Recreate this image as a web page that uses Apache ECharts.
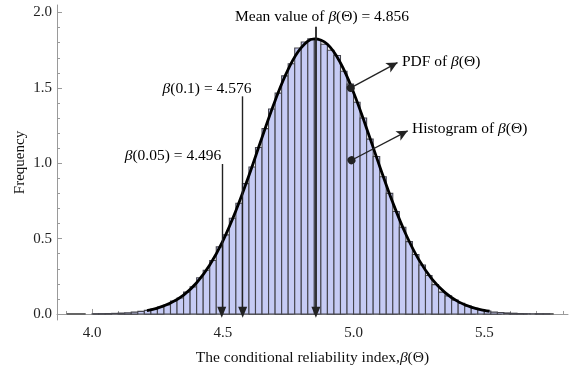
<!DOCTYPE html>
<html>
<head>
<meta charset="utf-8">
<script src="https://cdn.jsdelivr.net/npm/echarts@6/dist/echarts.min.js"></script>
<style>html,body{margin:0;padding:0;background:#fff}#c{width:570px;height:371px}</style>
</head>
<body>
<div id="c"></div>
<script>
// ---- data ----
const binEdges = [4.000,4.025,4.050,4.075,4.100,4.125,4.150,4.175,4.200,4.225,4.250,4.275,4.300,4.325,4.350,4.375,4.400,4.425,4.450,4.475,4.500,4.525,4.550,4.575,4.600,4.625,4.650,4.675,4.700,4.725,4.750,4.775,4.800,4.825,4.850,4.875,4.900,4.925,4.950,4.975,5.000,5.025,5.050,5.075,5.100,5.125,5.150,5.175,5.200,5.225,5.250,5.275,5.300,5.325,5.350,5.375,5.400,5.425,5.450,5.475,5.500,5.525,5.550,5.575,5.600,5.625,5.650,5.675,5.700,5.725,5.750];
const histFreq = [0.001,0.002,0.003,0.004,0.006,0.008,0.012,0.017,0.024,0.032,0.046,0.060,0.085,0.106,0.145,0.180,0.240,0.290,0.355,0.445,0.525,0.635,0.735,0.865,0.975,1.105,1.230,1.360,1.465,1.580,1.660,1.765,1.805,1.825,1.820,1.790,1.750,1.715,1.610,1.525,1.405,1.300,1.160,1.045,0.910,0.800,0.680,0.575,0.480,0.395,0.325,0.255,0.195,0.145,0.120,0.092,0.070,0.052,0.038,0.028,0.020,0.012,0.010,0.007,0.005,0.003,0.002,0.0015,0.001,0.0008];
const pdfX = [4.21,4.25,4.30,4.35,4.40,4.45,4.50,4.55,4.60,4.65,4.70,4.75,4.80,4.85,4.90,4.95,5.00,5.05,5.10,5.15,5.20,5.25,5.30,5.35,5.40,5.45,5.50,5.52];
const pdfY = [0.023,0.039,0.072,0.125,0.207,0.325,0.484,0.685,0.919,1.171,1.415,1.623,1.767,1.825,1.789,1.665,1.470,1.231,0.979,0.739,0.529,0.359,0.232,0.142,0.082,0.045,0.024,0.018];
const xTickLabels = [4.0, 4.5, 5.0, 5.5];
const xMinorTicks = [3.9,4.1,4.2,4.3,4.4,4.6,4.7,4.8,4.9,5.1,5.2,5.3,5.4,5.6,5.7,5.8];
const yTickLabels = [0.0, 0.5, 1.0, 1.5, 2.0];
const yMinorTicks = [0.1,0.2,0.3,0.4,0.6,0.7,0.8,0.9,1.1,1.2,1.3,1.4,1.6,1.7,1.8,1.9];
const quantiles = [
  {name: '0.05', value: 4.496, top: 0.995},
  {name: '0.1', value: 4.576, top: 1.444},
  {name: 'mean', value: 4.856, top: 1.905}
];
const zeroLine = [[3.903, 0], [5.79, 0]];
const pdfArrow = [[4.989, 1.50], [5.168, 1.668]];
const histArrow = [[4.992, 1.02], [5.207, 1.215]];

// ---- chart ----
const FONT = '"Liberation Serif", "DejaVu Serif", serif';
const AX = '#9a9a9a';
const chart = echarts.init(document.getElementById('c'));
const histData = histFreq.map((v, i) => [binEdges[i], binEdges[i + 1], v]);
const FS = 15.5;
const rich = {
  n: {fontFamily: FONT, fontSize: FS, color: '#111'},
  i: {fontFamily: FONT, fontSize: FS, fontStyle: 'italic', color: '#111'}
};

const xBase = {type: 'value', min: 3.866, max: 5.82, gridIndex: 0, position: 'bottom', splitLine: {show: false}};
const yBase = {type: 'value', min: -0.04, max: 2.05, gridIndex: 0, position: 'left', splitLine: {show: false}};

chart.setOption({
  animation: false,
  grid: {left: 57, right: 2, top: 5, bottom: 45},
  xAxis: [
    Object.assign({}, xBase, {
      axisLine: {lineStyle: {color: AX, width: 1}},
      axisTick: {inside: true, length: 5, lineStyle: {color: AX}, customValues: xTickLabels},
      axisLabel: {customValues: xTickLabels, formatter: v => v.toFixed(1), margin: 6, fontFamily: FONT, fontSize: 15, color: '#222'},
      name: '{n|The conditional reliability index,}{i|β}{n|(Θ)}',
      nameLocation: 'middle', nameGap: 30,
      nameTextStyle: {rich: rich}
    }),
    Object.assign({}, xBase, {
      axisLine: {show: false},
      axisTick: {inside: true, length: 3, lineStyle: {color: AX}, customValues: xMinorTicks},
      axisLabel: {show: false}
    })
  ],
  yAxis: [
    Object.assign({}, yBase, {
      axisLine: {show: true, lineStyle: {color: AX, width: 1}},
      axisTick: {show: true, inside: true, length: 5, lineStyle: {color: AX}, customValues: yTickLabels},
      axisLabel: {customValues: yTickLabels, formatter: v => v.toFixed(1), margin: 5, fontFamily: FONT, fontSize: 15, color: '#222'},
      name: 'Frequency', nameLocation: 'middle', nameGap: 29, nameRotate: 90, nameMoveOverlap: false,
      nameTextStyle: {fontFamily: FONT, fontSize: 15, color: '#111'}
    }),
    Object.assign({}, yBase, {
      axisLine: {show: false},
      axisTick: {show: true, inside: true, length: 3, lineStyle: {color: AX}, customValues: yMinorTicks},
      axisLabel: {show: false}
    })
  ],
  series: [
    {
      type: 'line', data: zeroLine, symbol: 'none', z: 1,
      lineStyle: {color: '#333', width: 1.2, type: [19, 7]}
    },
    {
      type: 'custom', z: 2, data: histData,
      renderItem: function (params, api) {
        const p0 = api.coord([api.value(0), 0]);
        const p1 = api.coord([api.value(1), api.value(2)]);
        return {
          type: 'rect',
          shape: {x: p0[0], y: p1[1], width: p1[0] - p0[0], height: p0[1] - p1[1]},
          style: {fill: '#c6cbf4', stroke: '#45454d', lineWidth: 1.1}
        };
      }
    },
    {
      type: 'line', z: 3, data: pdfX.map((x, i) => [x, pdfY[i]]), smooth: 0.4, symbol: 'none',
      lineStyle: {color: '#000', width: 2.8},
      markLine: {
        silent: true, animation: false,
        label: {show: false},
        data: quantiles.map(q => [
          {coord: [q.value, q.top], symbol: 'none', lineStyle: {color: '#222', width: q.name === 'mean' ? 1.8 : 1.4, type: 'solid'}},
          {coord: [q.value, 0.012], symbol: 'triangle', symbolSize: [9, 11], symbolRotate: 180}
        ]).concat([
          [
            {coord: pdfArrow[0], symbol: 'circle', symbolSize: 8, lineStyle: {color: '#222', width: 1.3, type: 'solid'}},
            {coord: pdfArrow[1], symbol: 'arrow', symbolSize: [8, 11]}
          ],
          [
            {coord: histArrow[0], symbol: 'circle', symbolSize: 8, lineStyle: {color: '#222', width: 1.3, type: 'solid'}},
            {coord: histArrow[1], symbol: 'arrow', symbolSize: [8, 11]}
          ]
        ]),
        itemStyle: {color: '#111'}
      }
    }
  ],
  graphic: [
    {type: 'text', z: 10, style: {x: 322, y: 17, text: '{n|Mean value of }{i|β}{n|(Θ) = 4.856}', rich: rich, align: 'center', verticalAlign: 'middle'}},
    {type: 'text', z: 10, style: {x: 207, y: 89, text: '{i|β}{n|(0.1) = 4.576}', rich: rich, align: 'center', verticalAlign: 'middle'}},
    {type: 'text', z: 10, style: {x: 173, y: 156, text: '{i|β}{n|(0.05) = 4.496}', rich: rich, align: 'center', verticalAlign: 'middle'}},
    {type: 'text', z: 10, style: {x: 402, y: 62, text: '{n|PDF of }{i|β}{n|(Θ)}', rich: rich, align: 'left', verticalAlign: 'middle'}},
    {type: 'text', z: 10, style: {x: 412, y: 129, text: '{n|Histogram of }{i|β}{n|(Θ)}', rich: rich, align: 'left', verticalAlign: 'middle'}}
  ]
});
</script>
</body>
</html>
